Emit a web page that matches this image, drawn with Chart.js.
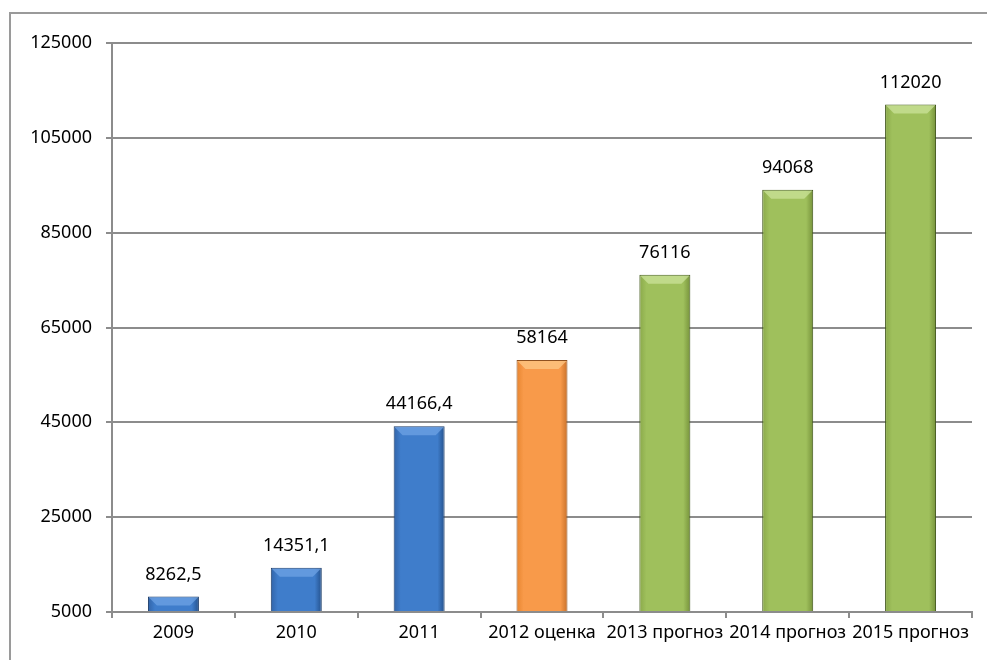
<!DOCTYPE html>
<html>
<head>
<meta charset="utf-8">
<script src="https://cdn.jsdelivr.net/npm/chart.js@4/dist/chart.umd.min.js"></script>
<style>
  html, body { margin: 0; padding: 0; background: #fff; }
  #wrap { width: 987px; height: 660px; }
</style>
</head>
<body>
<div id="wrap"><canvas id="grafico"></canvas></div>
<script>
// данные
const categories = ['2009', '2010', '2011', '2012 оценка', '2013 прогноз', '2014 прогноз', '2015 прогноз'];
const values = [8262.5, 14351.1, 44166.4, 58164, 76116, 94068, 112020];
const valueLabels = ['8262,5', '14351,1', '44166,4', '58164', '76116', '94068', '112020'];
const barKind = ['fact', 'fact', 'fact', 'estimate', 'forecast', 'forecast', 'forecast'];
const yTicks = [5000, 25000, 45000, 65000, 85000, 105000, 125000];

const palette = {
  fact:     { left: '#3264a8', mid: '#3f7dcb', right: '#24518c', border: '#1a3a66', bevel: '#6fa3e4' },
  estimate: { left: '#e7852f', mid: '#f89a4a', right: '#c9712a', border: '#8f5220', bevel: '#fdc887' },
  forecast: { left: '#8aa94a', mid: '#9fc05c', right: '#76923b', border: '#3e5418', bevel: '#cbe39a' }
};
const BAR_PCT = 0.415;

function barGradient(c) {
  const chart = c.chart;
  const p = palette[barKind[c.dataIndex]];
  const xs = chart.scales.x;
  if (!xs || !chart.chartArea) return p.mid;
  const cx = xs.getPixelForValue(c.dataIndex);
  const w = (chart.chartArea.width / categories.length) * BAR_PCT;
  const g = chart.ctx.createLinearGradient(cx - w / 2, 0, cx + w / 2, 0);
  g.addColorStop(0, p.left);
  g.addColorStop(0.14, p.mid);
  g.addColorStop(0.86, p.mid);
  g.addColorStop(1, p.right);
  return g;
}

// рамка вокруг диаграммы
const framePlugin = {
  id: 'frame',
  beforeDraw(chart) {
    const ctx = chart.ctx;
    ctx.save();
    ctx.strokeStyle = '#9a9a9a';
    ctx.lineWidth = 2;
    ctx.strokeRect(10, 13, chart.width + 20, chart.height + 20);
    ctx.restore();
  }
};

// скос сверху столбца и подписи значений
const labelPlugin = {
  id: 'valueLabels',
  afterDatasetsDraw(chart) {
    const ctx = chart.ctx;
    const meta = chart.getDatasetMeta(0);
    ctx.save();
    meta.data.forEach((bar, i) => {
      const p = palette[barKind[i]];
      const l = bar.x - bar.width / 2 + 1, r = bar.x + bar.width / 2 - 1;
      const t = bar.y + 1, b = Math.min(bar.y + 9, bar.base - 1);
      const d = b - t;
      ctx.fillStyle = p.bevel;
      ctx.globalAlpha = 0.75;
      ctx.beginPath();
      ctx.moveTo(l, t);
      ctx.lineTo(r, t);
      ctx.lineTo(r - d, b);
      ctx.lineTo(l + d, b);
      ctx.closePath();
      ctx.fill();
    });
    ctx.globalAlpha = 1;
    ctx.font = '18px "Noto Sans", sans-serif';
    ctx.fillStyle = '#000';
    ctx.textAlign = 'center';
    ctx.textBaseline = 'middle';
    meta.data.forEach((bar, i) => {
      ctx.fillText(valueLabels[i], bar.x, bar.y - 22);
    });
    ctx.restore();
  }
};

const ctx = document.getElementById('grafico').getContext('2d');
new Chart(ctx, {
  type: 'bar',
  data: {
    labels: categories,
    datasets: [{
      data: values,
      base: 5000,
      backgroundColor: barGradient,
      borderColor: c => palette[barKind[c.dataIndex]].border,
      borderWidth: 1,
      barPercentage: BAR_PCT,
      categoryPercentage: 1
    }]
  },
  options: {
    responsive: true,
    maintainAspectRatio: false,
    animation: false,
    devicePixelRatio: 1,
    layout: { padding: { top: 43, right: 15, left: 0, bottom: 0 } },
    plugins: {
      legend: { display: false },
      tooltip: { enabled: false }
    },
    scales: {
      x: {
        afterFit: s => { s.height = 48; },
        grid: {
          offset: true,
          drawOnChartArea: false,
          color: '#8c8c8c',
          lineWidth: 2,
          tickLength: 6
        },
        border: { color: '#8c8c8c', width: 2 },
        ticks: {
          color: '#000',
          font: { family: '"Noto Sans", sans-serif', size: 18 },
          maxRotation: 0,
          autoSkip: false,
          padding: 4
        }
      },
      y: {
        min: 5000,
        max: 125000,
        afterFit: s => { s.width = 112; },
        afterBuildTicks: s => { s.ticks = yTicks.map(v => ({ value: v })); },
        grid: {
          color: '#8c8c8c',
          lineWidth: 2,
          tickLength: 6
        },
        border: { color: '#8c8c8c', width: 2 },
        ticks: {
          color: '#000',
          font: { family: '"Noto Sans", sans-serif', size: 18 },
          padding: 14,
          callback: v => String(v)
        }
      }
    }
  },
  plugins: [framePlugin, labelPlugin]
});
</script>
</body>
</html>
